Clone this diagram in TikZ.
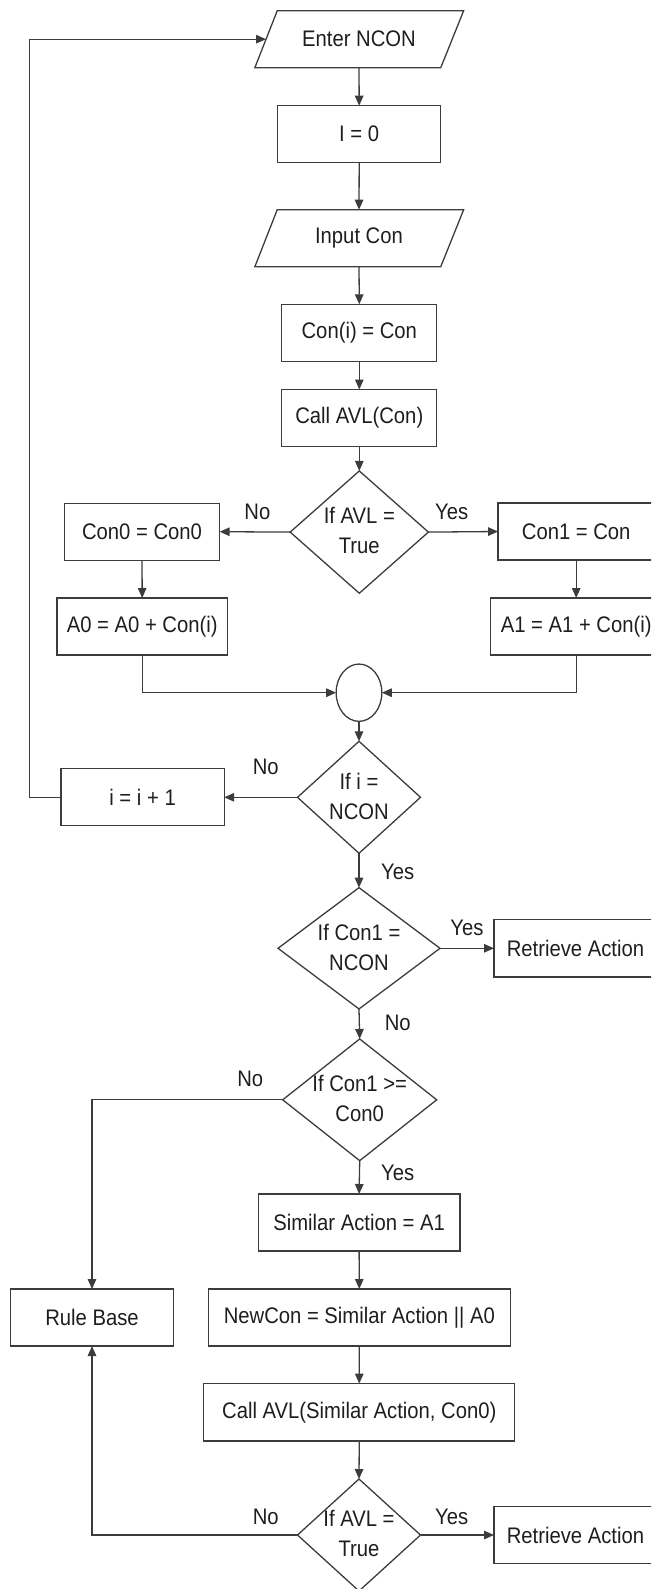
\documentclass[tikz,border=0pt]{standalone}
\usepackage{fontspec}
\setmainfont{Liberation Sans}[FakeStretch=0.9]
\usetikzlibrary{shapes.geometric,arrows.meta,calc}
\definecolor{linec}{RGB}{60,60,60}
\definecolor{textc}{RGB}{30,30,30}
\begin{document}
\begin{tikzpicture}[x=1pt,y=-1pt,
  every node/.style={font=\fontsize{22.5}{30}\selectfont, text=textc, inner sep=0pt, outer sep=0pt},
  box/.style={draw=linec, line width=1.3pt, rectangle, minimum height=57pt},
  ghost/.style={rectangle, minimum height=57pt},
  dia/.style={draw=linec, line width=1.3pt, diamond},
  dtext/.style={align=center},
  lbl/.style={},
  arr/.style={draw=linec, line width=1.3pt, -{Triangle[length=10pt,width=8.5pt]}},
  ln/.style={draw=linec, line width=1.3pt},
  para/.style={draw=linec, line width=1.3pt}
]
\useasboundingbox (0,0) rectangle (651,1589);
\clip (0,0) rectangle (651,1589);

% main column
\node[ghost, minimum width=163.5pt] (enter) at (359,39.2) {Enter NCON};
\draw[para] (enter.north west) -- ($(enter.north east)+(22.9,0)$) -- (enter.south east) -- ($(enter.south west)+(-22.4,0)$) -- cycle;
\coordinate (enterin) at ($(enter.west)+(-11.2,0)$);

\node[box, minimum width=163pt] (i0) at (359.2,134.2) {I = 0};

\node[ghost, minimum width=163.5pt] (input) at (359,238.2) {Input Con};
\draw[para] (input.north west) -- ($(input.north east)+(22.9,0)$) -- (input.south east) -- ($(input.south west)+(-22.4,0)$) -- cycle;

\node[box, minimum width=155pt] (coni) at (359.3,332.8) {Con(i) = Con};
\node[box, minimum width=155pt] (callavl) at (359.3,418) {Call AVL(Con)};

\node[dia, minimum width=138.2pt, minimum height=122.3pt] (d1) at (359.3,532.1) {};
\node[dtext] (d1t) at (359.3,530.5) {If AVL =\\True};

\node[box, minimum width=155.3pt] (con0) at (142,531.7) {Con0 = Con0};
\node[box, minimum width=156.2pt] (con1) at (576.2,531.5) {Con1 = Con};
\node[box, minimum width=170.6pt] (a0) at (142.2,626.5) {A0 = A0 + Con(i)};
\node[box, minimum width=171pt] (a1) at (576.2,626.5) {A1 = A1 + Con(i)};

\node[draw=linec, line width=1.3pt, ellipse, minimum width=45.7pt, minimum height=57.3pt] (join) at (359,692.7) {};

\node[dia, minimum width=123pt, minimum height=112pt] (d2) at (359,797.3) {};
\node[dtext] (d2t) at (359,796) {If i =\\NCON};
\node[box, minimum width=163.2pt] (inc) at (142.6,797.3) {i = i + 1};

\node[dia, minimum width=162pt, minimum height=121.3pt] (d3) at (359,948.3) {};
\node[dtext] (d3t) at (359,947) {If Con1 =\\NCON};
\node[box, minimum width=163pt, minimum height=57.4pt] (ret1) at (575.5,948.3) {Retrieve Action};

\node[dia, minimum width=154pt, minimum height=121.7pt] (d4) at (359.7,1099.8) {};
\node[dtext] (d4t) at (359.7,1098) {If Con1 >=\\Con0};

\node[box, minimum width=201.8pt] (simact) at (359.1,1222.5) {Similar Action = A1};
\node[box, minimum width=301.8pt] (newcon) at (359.3,1317.5) {NewCon = Similar Action || A0};
\node[box, minimum width=163.1pt] (rule) at (92,1317.5) {Rule Base};
\node[box, minimum width=310.9pt, minimum height=57.3pt] (callavl2) at (359.25,1412.2) {Call AVL(Similar Action, Con0)};

\node[dia, minimum width=123pt, minimum height=112pt] (d5) at (359,1535) {};
\node[dtext] (d5t) at (359,1533.3) {If AVL =\\True};
\node[box, minimum width=163pt, minimum height=57.3pt] (ret2) at (575.5,1535) {Retrieve Action};

% labels
\node[lbl] (l1n) at (257.4,511.7) {No};
\node[lbl] (l1y) at (451.6,511.7) {Yes};
\node[lbl] (l2n) at (265.7,766.7) {No};
\node[lbl] (l2y) at (397.7,871.7) {Yes};
\node[lbl] (l3y) at (467,928.3) {Yes};
\node[lbl] (l3n) at (397.7,1022.7) {No};
\node[lbl] (l4n) at (250.3,1079.3) {No};
\node[lbl] (l4y) at (397.7,1173.3) {Yes};
\node[lbl] (l5n) at (265.7,1516.7) {No};
\node[lbl] (l5y) at (451.6,1516.7) {Yes};

% connectors
\coordinate (loopl) at (29.5,39.2);
\draw[arr] (enter.south) -- (i0.north);
\draw[arr] (i0.south) -- (input.north);
\draw[arr] (input.south) -- (coni.north);
\draw[arr] (coni.south) -- (callavl.north);
\draw[arr] (callavl.south) -- (d1.north);
\draw[arr] (d1.west) -- (con0.east);
\draw[arr] (d1.east) -- (con1.west);
\draw[arr] (con0.south) -- (a0.north);
\draw[arr] (con1.south) -- (a1.north);
\draw[arr] (a0.south) |- (join.west);
\draw[arr] (a1.south) |- (join.east);
\draw[arr] (join.south) -- (d2.north);
\draw[arr] (d2.west) -- (inc.east);
\draw[arr] (inc.west) -| (loopl) -- (enterin);
\draw[arr] (d2.south) -- (d3.north);
\draw[arr] (d3.east) -- (ret1.west);
\draw[arr] (d3.south) -- (d4.north);
\draw[arr] (d4.west) -| (rule.north);
\draw[arr] (d4.south) -- (simact.north);
\draw[arr] (simact.south) -- (newcon.north);
\draw[arr] (newcon.south) -- (callavl2.north);
\draw[arr] (callavl2.south) -- (d5.north);
\draw[arr] (d5.east) -- (ret2.west);
\draw[arr] (d5.west) -| (rule.south);
\end{tikzpicture}
\end{document}
